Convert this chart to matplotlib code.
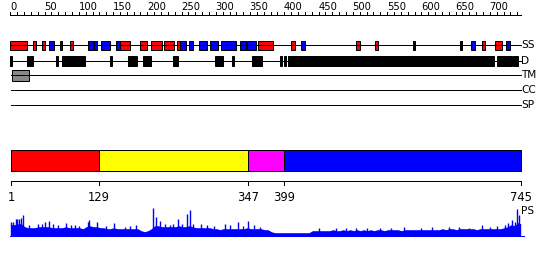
import numpy as np
import matplotlib
matplotlib.use("Agg")
import matplotlib.pyplot as plt
from matplotlib.patches import Rectangle

# sequence length and ruler
seq_len = 745
ruler_labels = [0, 50, 100, 150, 200, 250, 300, 350, 400, 450, 500, 550, 600, 650, 700]

# secondary structure (residue start, end)
helix = [(1, 25), (34, 38), (47, 51), (88, 92), (160, 174), (190, 200), (206, 222),
         (225, 239), (244, 248), (363, 383), (411, 416), (506, 510), (533, 537),
         (689, 693), (709, 717)]
strand = [(57, 64), (73, 76), (114, 120), (123, 127), (134, 145), (155, 160),
          (249, 257), (262, 266), (277, 287), (292, 303), (309, 330), (337, 344),
          (347, 359), (426, 430), (674, 679), (725, 730)]
ss_other = [(589, 590), (657, 659)]

# disordered regions
disorder = [(1, 2), (26, 28), (30, 33), (67, 69), (76, 109), (146, 149), (173, 185),
            (194, 206), (239, 240), (242, 245), (300, 311), (325, 327), (354, 367),
            (395, 397), (400, 403), (407, 706), (712, 733), (735, 741)]

# transmembrane
tm = [(4, 27)]

# domain boundaries
domain_bounds = [1, 129, 347, 399, 745]
domain_colors = ["#ff0000", "#ffff00", "#ff00ff", "#0000ff"]

# PS profile: floor level every 5 residues, plus individual peaks
ps_res = list(range(1, 742, 5)) + [745]
ps_floor = [11, 11, 12, 12, 9, 8, 8, 8, 9, 9, 9, 9, 8, 8, 8, 8, 9, 8, 8, 8,
            8, 7, 9, 10, 9, 9, 8, 8, 7, 7, 8, 7, 7, 7, 7, 7, 7, 7, 5, 4,
            5, 7, 10, 10, 9, 9, 9, 9, 9, 10, 9, 9, 10, 9, 8, 8, 8, 8, 8, 7,
            7, 6, 7, 7, 7, 7, 7, 7, 7, 8, 7, 7, 7, 7, 6, 6, 4, 3, 3, 3,
            3, 3, 3, 3, 3, 3, 3, 3, 5, 5, 5, 5, 5, 5, 6, 5, 5, 6, 5, 6,
            5, 6, 5, 6, 5, 6, 5, 6, 6, 5, 6, 6, 6, 6, 5, 6, 6, 6, 6, 6,
            6, 6, 6, 6, 6, 6, 7, 6, 7, 7, 6, 7, 7, 7, 7, 7, 6, 7, 7, 7,
            7, 7, 7, 7, 8, 9, 11, 10, 13, 12]
ps_peak_res = [1, 4, 8, 10, 13, 15, 18, 28, 41, 46, 51, 57, 63, 70, 81, 88, 94, 101,
               113, 115, 126, 140, 152, 167, 175, 184, 209, 212, 218, 226, 233, 238,
               245, 250, 258, 263, 267, 279, 287, 297, 313, 321, 333, 340, 347, 355, 364,
               450, 475, 490, 505, 520, 540, 556, 575, 600, 615, 640, 655, 670,
               688, 700, 710, 722, 726, 732, 737, 740, 743]
ps_peak_val = [14, 14, 17, 17, 17, 18, 21, 11, 12, 12, 14, 15, 12, 11, 13, 11, 11, 10,
               14, 16, 14, 10, 13, 9, 10, 11, 28, 19, 15, 12, 11, 12,
               17, 12, 22, 26, 12, 12, 11, 10, 12, 11, 14, 10, 15, 11, 9,
               8, 8, 8, 8, 8, 8, 8, 9, 8, 9, 9, 9, 8,
               11, 9, 10, 11, 13, 16, 14, 27, 21]

px_per_res = 0.6851
x0_px = 10.3
W, H = 550, 260

fig = plt.figure(figsize=(W / 100, H / 100), dpi=100)
ax = fig.add_axes([0, 0, 1, 1])
ax.set_xlim(-x0_px / px_per_res, (W - x0_px) / px_per_res)
ax.set_ylim(H, 0)
ax.axis("off")

lw = 0.72
narrow = ["Liberation Sans Narrow", "DejaVu Sans"]

# ruler
ax.plot([0, seq_len], [15, 15], color="black", lw=lw)
for t in range(0, seq_len, 10):
    ax.plot([t, t], [15, 12.3], color="black", lw=lw)
for t in ruler_labels:
    ax.text(t - 0.5, 10.5, str(t), fontsize=7.2, family=narrow, ha="left", va="baseline")

# tracks
rows = {"SS": 45.3, "D": 60.7, "TM": 75.3, "CC": 90.2, "SP": 105.3}
for name, y in rows.items():
    ax.plot([0.5, seq_len], [y, y], color="black", lw=lw)
    ax.text(746, y, name, fontsize=7.6, ha="left", va="center")

def boxes(segs, y, h, color):
    for s, e in segs:
        ax.add_patch(Rectangle((s - 1, y - h / 2), e - s + 1, h, facecolor=color,
                               edgecolor="black", lw=lw))

boxes(helix, rows["SS"], 9.6, "#ff0000")
boxes(strand, rows["SS"], 9.6, "#0000ff")
boxes(ss_other, rows["SS"], 9.6, "black")
boxes(disorder, rows["D"], 10, "black")
boxes(tm, rows["TM"], 10.5, "#888888")

# domain bar
for i, c in enumerate(domain_colors):
    s, e = domain_bounds[i], domain_bounds[i + 1]
    ax.add_patch(Rectangle((s, 150.2), e - s, 20.4, facecolor=c, edgecolor="black", lw=lw))
ax.plot([domain_bounds[0], domain_bounds[-1]], [180.7, 180.7], color="black", lw=lw)
for b in domain_bounds:
    ax.plot([b, b], [180.7, 185.3], color="black", lw=lw)
    ax.text(b, 191, str(b), fontsize=8.3, ha="center", va="top")

# PS profile
base = 235.7
ax.plot([0, 750], [base, base], color="#0000ff", lw=lw)
ax.fill_between(ps_res, base, base - np.array(ps_floor), color="#0000ff", lw=0)
ax.vlines(ps_peak_res, base, base - np.array(ps_peak_val), color="#0000ff", lw=1.0)
ax.text(746, 211, "PS", fontsize=7.6, ha="left", va="center")

fig.savefig("out.png", dpi=100)
